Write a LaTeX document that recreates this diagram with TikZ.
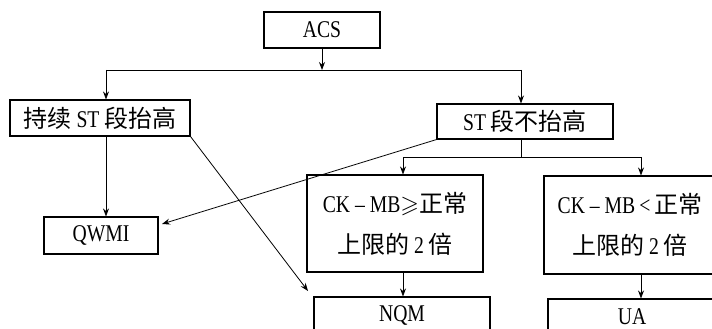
\documentclass[tikz,border=0pt]{standalone}
\usepackage{amssymb}
\usepackage{fontspec}
\setmainfont{Liberation Serif}[FakeStretch=0.82]
\newfontfamily\zhfont{Noto Sans CJK SC}
\usetikzlibrary{arrows.meta}
\newcommand{\zh}[1]{{\zhfont #1}}
\begin{document}
\begin{tikzpicture}[x=1pt,y=-1pt,
  box/.style={draw, line width=1.1pt, inner sep=0pt, align=center,
    font=\fontsize{24}{41}\selectfont},
  arr/.style={-{Stealth[length=8pt,width=6pt]}, line width=0.8pt},
  ln/.style={line width=0.8pt}]
\useasboundingbox (0,0) rectangle (712,329);
\clip (0,0) rectangle (712,329);
% nodes
\node[box, minimum width=116pt, minimum height=36pt] (A) at (322,30) {ACS};
\node[box, minimum width=180pt, minimum height=36pt] (L) at (100,118) {\zh{持续} ST \zh{段抬高}};
\node[box, minimum width=176pt, minimum height=35pt] (R) at (525,121.5) {ST \zh{段不抬高}};
\node[box, minimum width=114pt, minimum height=37pt] (Q) at (101,235.5) {QWMI};
\node[box, minimum width=176pt, minimum height=97pt] (C1) at (395,223.5) {CK -- MB$\geqslant$\zh{正常}\\\zh{上限的} 2 \zh{倍}};
\node[box, minimum width=172pt, minimum height=98pt] (C2) at (630,225) {CK -- MB\,<\,\zh{正常}\\\zh{上限的} 2 \zh{倍}};
\node[box, minimum width=176pt, minimum height=36pt] (N) at (402,315) {NQM};
\node[box, minimum width=168pt, minimum height=36pt] (U) at (632,317) {UA};
% branch coordinates
\coordinate (bl) at (106,70);
\coordinate (br) at (521,70);
\coordinate (bm) at (322,70);
\coordinate (k1) at (403,157);
\coordinate (k2) at (641,157);
\coordinate (qt) at (162,224);
\coordinate (nt) at (308,291);
% connectors
\draw[arr] (A) -- (bm);
\draw[ln] (bl) -- (br);
\draw[arr] (bl) -- (bl |- L.north);
\draw[arr] (br) -- (br |- R.north);
\draw[arr] (bl |- L.south) -- (bl |- Q.north);
\draw[arr] (L.south east) -- (nt);
\draw[arr] (R.south west) -- (qt);
\draw[ln] (br |- R.south) -- (br |- k1);
\draw[ln] (k1) -- (k2);
\draw[arr] (k1) -- (k1 |- C1.north);
\draw[arr] (k2) -- (k2 |- C2.north);
\draw[arr] (k1 |- C1.south) -- (k1 |- N.north);
\draw[arr] (k2 |- C2.south) -- (k2 |- U.north);
\end{tikzpicture}
\end{document}
